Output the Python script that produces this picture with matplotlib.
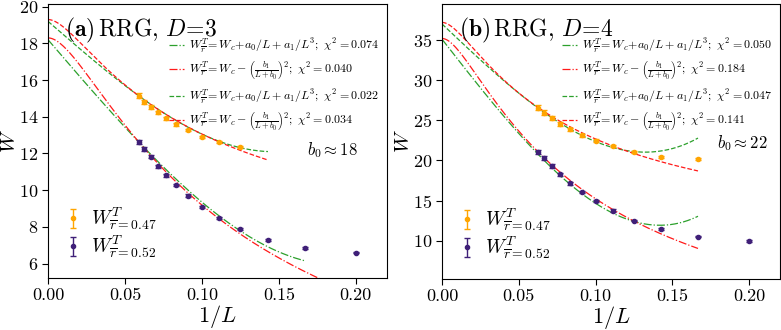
import numpy as np
import matplotlib
matplotlib.use("Agg")
import matplotlib.pyplot as plt

plt.rcParams['font.family'] = 'serif'
plt.rcParams['font.serif'] = ['cmr10']
plt.rcParams['mathtext.fontset'] = 'cm'
plt.rcParams['axes.formatter.use_mathtext'] = True
plt.rcParams['axes.unicode_minus'] = False

# ---- data ----
# panel (a): RRG, D=3
L_a_orange = [17, 16, 15, 14, 13, 12, 11, 10, 9, 8]
W_a_orange = [15.15, 14.82, 14.54, 14.25, 13.91, 13.6, 13.27, 12.91, 12.62, 12.35]
err_a_orange = [0.12, 0.1, 0.1, 0.09, 0.08, 0.08, 0.07, 0.06, 0.06, 0.06]
L_a_purple = [17, 16, 15, 14, 13, 12, 11, 10, 9, 8, 7, 6, 5]
W_a_purple = [12.62, 12.24, 11.82, 11.3, 10.8, 10.28, 9.7, 9.1, 8.5, 7.87, 7.28, 6.83, 6.6]
err_a_purple = [0.1, 0.1, 0.09, 0.08, 0.08, 0.07, 0.07, 0.06, 0.06, 0.05, 0.05, 0.05, 0.05]

# panel (b): RRG, D=4
L_b_orange = [16, 15, 14, 13, 12, 11, 10, 9, 8, 7, 6]
W_b_orange = [26.55, 25.95, 25.3, 24.6, 23.9, 23.15, 22.45, 21.8, 21.05, 20.45, 20.15]
err_b_orange = [0.3, 0.3, 0.25, 0.25, 0.2, 0.2, 0.2, 0.15, 0.15, 0.15, 0.15]
L_b_purple = [16, 15, 14, 13, 12, 11, 10, 9, 8, 7, 6, 5]
W_b_purple = [21.05, 20.25, 19.3, 18.25, 17.15, 16.1, 14.98, 13.74, 12.49, 11.46, 10.5, 9.96]
err_b_purple = [0.25, 0.25, 0.2, 0.2, 0.2, 0.15, 0.15, 0.15, 0.1, 0.1, 0.1, 0.1]

# fit parameters: poly -> (Wc, a0, a1), rational -> (Wc, b0, b1); then largest 1/L drawn
fits_a = [
    ('poly', (18.2, -97.7, 915.0), 0.1667, '-.', '0.074'),
    ('rat', (18.3, 16.0, 78.5), 0.2, '-.', '0.040'),
    ('poly', (19.2, -72.8, 1133.0), 0.1429, '--', '0.022'),
    ('rat', (19.3, 20.9, 77.2), 0.1429, '--', '0.034'),
]
fits_b = [
    ('poly', (35.1, -245.0, 4055.0), 0.1667, '-.', '0.050'),
    ('rat', (35.2, 21.7, 141.7), 0.1667, '-.', '0.184'),
    ('poly', (37.0, -181.0, 3445.0), 0.1667, '--', '0.047'),
    ('rat', (37.2, 25.1, 133.8), 0.1667, '--', '0.141'),
]

orange = '#FFA500'
purple = '#3f1f78'
green = '#2ca02c'
red = '#ff1a1a'

poly_label = r"$W^T_{\overline{r}}\!=W_c\!+\!a_0/L + a_1/L^3;\ \chi^2 = %s$"
rat_label = r"$W^T_{\overline{r}}\!=W_c - \left(\frac{b_1}{L+b_0}\right)^2;\ \chi^2 = %s$"


def model(kind, p, x):
    if kind == 'poly':
        return p[0] + p[1] * x + p[2] * x ** 3
    return p[0] - (p[2] * x / (1 + p[1] * x)) ** 2


def draw_panel(ax, Lo, Wo, eo, Lp, Wp, ep, fits, title, b0text, ylim, yticks):
    handles = []
    for kind, p, xmax, ls, chi in fits:
        x = np.linspace(0, xmax, 300)
        col = green if kind == 'poly' else red
        ln, = ax.plot(x, model(kind, p, x), ls=ls, color=col, lw=0.9,
                      label=(poly_label if kind == 'poly' else rat_label) % chi)
        handles.append(ln)
    eb1 = ax.errorbar(1 / np.array(Lo), Wo, yerr=eo, fmt='o', ms=3.0, color=orange,
                      capsize=2, elinewidth=1, label=r"$W^T_{\overline{r}=0.47}$", zorder=5)
    eb2 = ax.errorbar(1 / np.array(Lp), Wp, yerr=ep, fmt='o', ms=3.0, color=purple,
                      capsize=2, elinewidth=1, label=r"$W^T_{\overline{r}=0.52}$", zorder=5)

    leg1 = ax.legend(handles=handles, loc='upper right', bbox_to_anchor=(1.0, 0.91),
                     frameon=False, fontsize=8.6, handlelength=1.3, handletextpad=0.4,
                     labelspacing=0.42, borderaxespad=0.2)
    ax.add_artist(leg1)
    ax.legend(handles=[eb1, eb2], loc='lower left', bbox_to_anchor=(0.0, 0.0),
              frameon=False, fontsize=14, handlelength=0.8, handletextpad=0.5,
              labelspacing=0.05)

    ax.text(0.05, 0.955, title, transform=ax.transAxes, fontsize=17, va='top')
    ax.text(b0text[0], b0text[1], r"$b_0\approx%s$" % b0text[2],
            transform=ax.transAxes, fontsize=12)
    ax.set_xlim(0, 0.22)
    ax.set_ylim(*ylim)
    ax.set_xticks([0.0, 0.05, 0.10, 0.15, 0.20])
    ax.set_xticklabels(['0.00', '0.05', '0.10', '0.15', '0.20'])
    ax.set_yticks(yticks)
    ax.tick_params(labelsize=13, direction='out', length=4, pad=3)
    ax.set_xlabel(r"$1/L$", fontsize=16, labelpad=0)
    ax.set_ylabel(r"$W$", fontsize=15)
    ax.yaxis.set_label_coords(-0.085, 0.5)


fig = plt.figure(figsize=(7.81, 3.30), dpi=100)
ax1 = fig.add_axes([0.0615, 0.157, 0.4335, 0.831])
ax2 = fig.add_axes([0.566, 0.154, 0.4325, 0.834])

draw_panel(ax1, L_a_orange, W_a_orange, err_a_orange, L_a_purple, W_a_purple, err_a_purple,
           fits_a, r"$(\mathbf{a})\,\mathrm{RRG},\,D\!=\!3$", (0.765, 0.45, '18'),
           (5.2, 20.15), [6, 8, 10, 12, 14, 16, 18, 20])
draw_panel(ax2, L_b_orange, W_b_orange, err_b_orange, L_b_purple, W_b_purple, err_b_purple,
           fits_b, r"$(\mathbf{b})\,\mathrm{RRG},\,D\!=\!4$", (0.815, 0.475, '22'),
           (5.2, 39.5), [10, 15, 20, 25, 30, 35])

fig.savefig('out.png', dpi=100)
